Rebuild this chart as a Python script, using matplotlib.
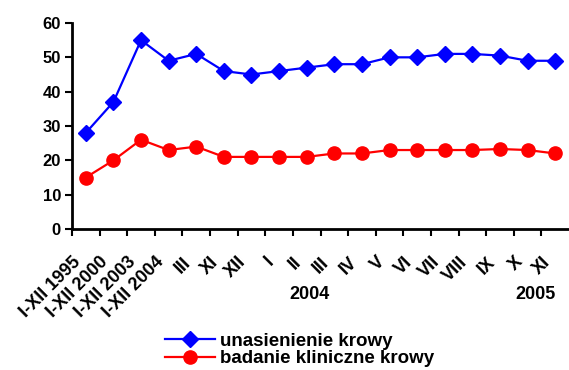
import matplotlib
matplotlib.use("Agg")
import matplotlib.pyplot as plt
import matplotlib.transforms as mtransforms

plt.rcParams['font.family'] = ['Liberation Sans', 'DejaVu Sans']
plt.rcParams['font.weight'] = 'bold'

categories = ["I-XII 1995", "I-XII 2000", "I-XII 2003", "I-XII 2004", "III", "XI", "XII",
              "I", "II", "III", "IV", "V", "VI", "VII", "VIII", "IX", "X", "XI"]
unasienienie = [28, 37, 55, 49, 51, 46, 45, 46, 47, 48, 48, 50, 50, 51, 51, 50.5, 49, 49]
badanie = [15, 20, 26, 23, 24, 21, 21, 21, 21, 22, 22, 23, 23, 23, 23, 23.3, 23, 22]
year_labels = [("2004", 8.1), ("2005", 16.3)]
series_names = ["unasienienie krowy", "badanie kliniczne krowy"]

YFS = 12
XFS = 13
LFS = 13.5

fig = plt.figure(figsize=(5.69, 3.70), dpi=100)
ax = fig.add_axes([72/569, 1-229/370, 1-72/569, (229-23)/370])

x = list(range(len(categories)))
ax.plot(x, unasienienie, color='#0000FF', lw=1.6, marker='D', ms=8.5, label=series_names[0])
ax.plot(x, badanie, color='#FF0000', lw=1.6, marker='o', ms=9.5, label=series_names[1])

ax.set_xlim(-0.5, len(categories) - 0.5)
ax.set_ylim(0, 60)
ax.set_yticks(range(0, 61, 10))
ax.tick_params(axis='y', labelsize=YFS, direction='out', length=5, width=1.5, pad=3)
ax.set_xticks([i - 0.5 for i in x])
ax.set_xticklabels([])
ax.tick_params(axis='x', direction='out', length=5, width=1.5)
for lab in ax.get_yticklabels():
    lab.set_fontweight('bold')

bt = mtransforms.blended_transform_factory(ax.transData, ax.transAxes)
for i, c in enumerate(categories):
    ax.text(i - 0.5, -0.12, c, transform=bt,
            rotation=45, ha='right', va='top', rotation_mode='anchor',
            fontsize=XFS, fontweight='bold')

for txt, xp in year_labels:
    ax.text(xp, -0.316, txt, transform=bt,
            ha='center', va='center', fontsize=XFS, fontweight='bold')

for s in ['top', 'right']:
    ax.spines[s].set_visible(False)
for s in ['left', 'bottom']:
    ax.spines[s].set_linewidth(2)
    ax.spines[s].set_color('black')

leg = fig.legend(loc='center', bbox_to_anchor=(300/569, 1-350/370), frameon=False,
                 prop={'weight': 'bold', 'size': LFS}, handlelength=2.67, handletextpad=0.27,
                 labelspacing=0.0, borderaxespad=0, borderpad=0)

fig.savefig("out.png", dpi=100)
